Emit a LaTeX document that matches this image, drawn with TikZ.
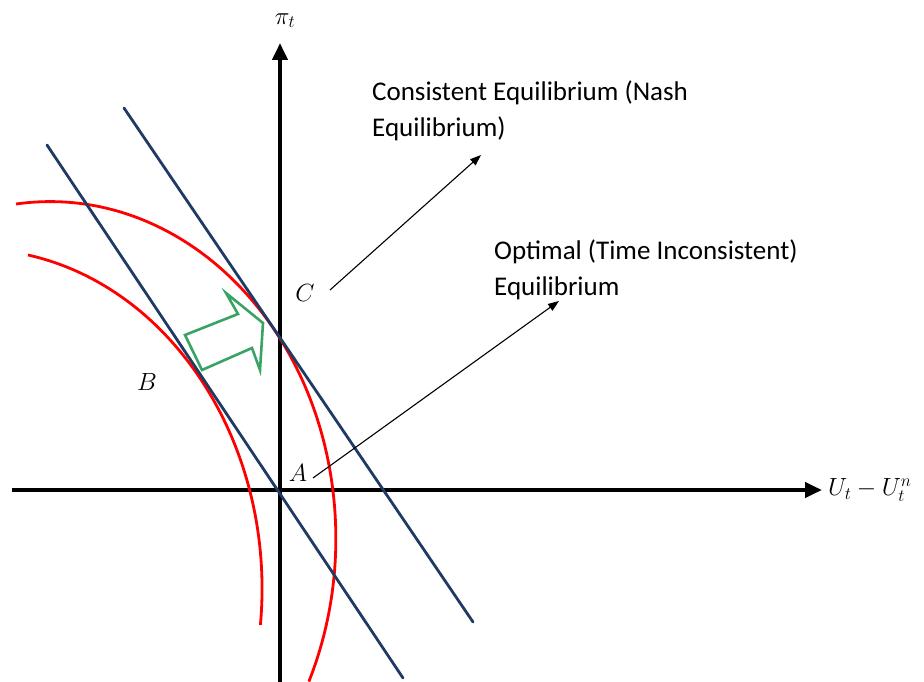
\documentclass[tikz,border=0pt]{standalone}
\usepackage{fontspec}
\newfontfamily\calfont{Carlito}
\usetikzlibrary{arrows.meta}
\definecolor{lossred}{RGB}{255,0,0}
\definecolor{pcblue}{RGB}{31,58,99}
\definecolor{shiftgreen}{RGB}{56,163,98}

\begin{document}
\begin{tikzpicture}[
        x=1pt,
        y=-1pt,
        axis/.style={line width=4pt, -{Triangle[width=15pt,length=17pt]}},
        loss/.style={draw=lossred, line width=2.8pt},
        phillips/.style={draw=pcblue, line width=2.8pt, line cap=round},
        shiftarrow/.style={draw=shiftgreen, line width=2.6pt, line join=miter},
        pointer/.style={line width=1.1pt, -{Triangle[width=8pt,length=11pt]}},
        eqlabel/.style={font=\fontsize{26}{30}\selectfont, inner sep=0pt},
        note/.style={font=\calfont\fontsize{27}{36}\selectfont, align=left, anchor=north west, inner sep=0pt}
      ]
        \useasboundingbox (0,0) rectangle (924,682);

        \coordinate (xstart) at (12,490);
        \coordinate (xend) at (822,490);
        \coordinate (ybottom) at (280,682);
        \coordinate (ytop) at (280,43);
        \draw[axis] (xstart) -- (xend);
        \draw[axis] (ybottom) -- (ytop);

        \node[eqlabel, anchor=south] (pi) at (285,28) {$\pi_t$};
        \node[eqlabel, anchor=west] (gap) at (828,490) {$U_t-U_t^n$};

        \draw[loss] (16,204) arc[start angle=96.8, end angle=-25.1, x radius=286pt, y radius=337pt];
        \draw[loss] (28,255) arc[start angle=79.2, end angle=-6.1, x radius=288pt, y radius=340pt];

        \draw[phillips] (47,145) -- (403,678);
        \draw[phillips] (124,108) -- (473,622);

        \draw[shiftarrow] (185,335) -- (238,314) -- (226,293) -- (263,323) -- (260,370) -- (252,348) -- (202,370) -- cycle;

        \node[eqlabel] (C) at (305,293) {$C$};
        \node[eqlabel] (B) at (147,382) {$B$};
        \node[eqlabel] (A) at (298,473) {$A$};

        \node[note] (nash) at (372,81) {Consistent Equilibrium (Nash\\Equilibrium)};
        \node[note] (optimal) at (494,240) {Optimal (Time Inconsistent)\\Equilibrium};

        \coordinate (nashtail) at (330,290);
        \coordinate (nashhead) at (481,155);
        \coordinate (opttail) at (313,478);
        \coordinate (opthead) at (559,301);
        \draw[pointer] (nashtail) -- (nashhead);
        \draw[pointer] (opttail) -- (opthead);
      \end{tikzpicture}
\end{document}
